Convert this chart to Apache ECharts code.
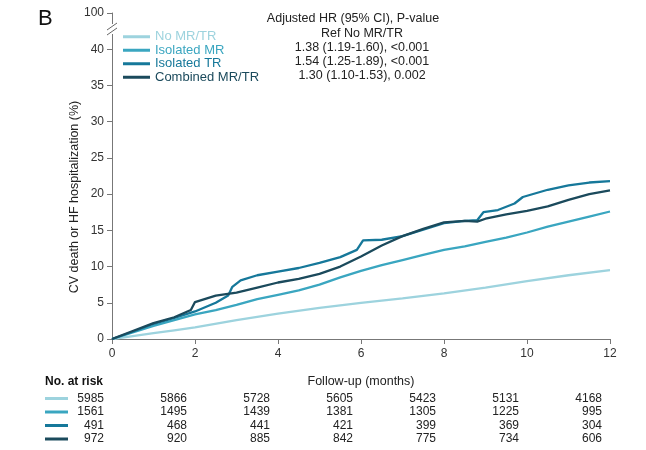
<!DOCTYPE html>
<html><head><meta charset="utf-8">
<script src="https://cdn.jsdelivr.net/npm/echarts@6/dist/echarts.min.js"></script>
<style>html,body{margin:0;padding:0;background:#fff}#c{width:646px;height:450px}</style>
</head><body><div id="c"></div>
<script>
const seriesNames = ['No MR/TR', 'Isolated MR', 'Isolated TR', 'Combined MR/TR'];
const seriesColors = ['#9dd3de', '#3aa6c0', '#16789a', '#1b4a5c'];

// [month, cumulative incidence %]
const noMrTr = [[0,0],[0.5,0.4],[1,0.8],[1.5,1.2],[2,1.6],[3,2.6],[4,3.5],[5,4.3],[6,5.0],[7,5.6],[8,6.3],[9,7.1],[10,8.0],[11,8.8],[12,9.5]];
const isolatedMr = [[0,0],[0.5,0.9],[1,1.8],[1.5,2.6],[2,3.4],[2.5,4.0],[3,4.7],[3.5,5.5],[4,6.1],[4.5,6.7],[5,7.5],[5.5,8.5],[6,9.4],[6.5,10.2],[7,10.9],[7.5,11.6],[8,12.3],[8.5,12.8],[9,13.4],[9.5,14.0],[10,14.7],[10.5,15.5],[11,16.2],[11.5,16.9],[12,17.6]];
const isolatedTr = [[0,0],[0.5,1.0],[1,2.1],[1.5,2.9],[2,3.8],[2.5,5.0],[2.8,6.0],[2.9,7.2],[3.1,8.1],[3.5,8.8],[4,9.3],[4.5,9.8],[5,10.5],[5.5,11.3],[5.9,12.3],[6.05,13.6],[6.5,13.7],[7,14.2],[7.5,15.1],[8,16.0],[8.5,16.3],[8.8,16.4],[8.95,17.5],[9.3,17.8],[9.7,18.7],[9.9,19.6],[10.5,20.6],[11,21.2],[11.5,21.6],[12,21.8]];
const combinedMrTr = [[0,0],[0.5,1.1],[1,2.2],[1.5,3.0],[1.9,4.0],[2.0,5.1],[2.5,6.0],[3,6.4],[3.5,7.1],[4,7.8],[4.5,8.3],[5,9.0],[5.5,10.0],[6,11.4],[6.5,12.9],[7,14.2],[7.5,15.2],[8,16.1],[8.5,16.3],[8.8,16.2],[9,16.6],[9.5,17.2],[10,17.7],[10.5,18.3],[11,19.2],[11.5,20.0],[12,20.5]];

const xTicks = [0, 2, 4, 6, 8, 10, 12];
const yTopLabel = '100';
const hrHeader = 'Adjusted HR (95% CI), P-value';
const hrLines = ['Ref No MR/TR', '1.38 (1.19-1.60), <0.001', '1.54 (1.25-1.89), <0.001', '1.30 (1.10-1.53), 0.002'];

const riskMonths = [0, 2, 4, 6, 8, 10, 12];
const riskNoMrTr = [5985, 5866, 5728, 5605, 5423, 5131, 4168];
const riskIsolatedMr = [1561, 1495, 1439, 1381, 1305, 1225, 995];
const riskIsolatedTr = [491, 468, 441, 421, 399, 369, 304];
const riskCombined = [972, 920, 885, 842, 775, 734, 606];

const allData = [noMrTr, isolatedMr, isolatedTr, combinedMrTr];
const riskRows = [riskNoMrTr, riskIsolatedMr, riskIsolatedTr, riskCombined];

const FONT = 'Liberation Sans, Arial, sans-serif';
const chart = echarts.init(document.getElementById('c'), null, {renderer: 'canvas'});

const option = {
  animation: false,
  backgroundColor: '#fff',
  grid: {left: 112, right: 36, top: 13, bottom: 111, containLabel: false},
  xAxis: {
    type: 'value', min: 0, max: 12, interval: 2,
    name: 'Follow-up (months)', nameLocation: 'middle', nameGap: 36,
    nameTextStyle: {fontFamily: FONT, fontSize: 12.5, color: '#222'},
    axisLine: {lineStyle: {color: '#777', width: 1}},
    axisTick: {show: true, length: 5, lineStyle: {color: '#777'}},
    axisLabel: {fontFamily: FONT, fontSize: 12, color: '#333', margin: 9},
    splitLine: {show: false}
  },
  yAxis: {
    type: 'value', min: 0, max: 45, interval: 5,
    axisLine: {show: true, lineStyle: {color: '#777', width: 1}},
    axisTick: {show: true, length: 5, lineStyle: {color: '#777'}},
    axisLabel: {fontFamily: FONT, fontSize: 12, color: '#333', margin: 8,
      formatter: v => v === 45 ? yTopLabel : String(v)},
    splitLine: {show: false}
  },
  legend: {
    orient: 'vertical', left: 118, top: 25, itemWidth: 27, itemHeight: 3, itemGap: 0,
    icon: 'rect', selectedMode: false,
    textStyle: {fontFamily: FONT, fontSize: 13, lineHeight: 13.5},
    data: seriesNames.map((n, i) => ({name: n, textStyle: {color: seriesColors[i]}}))
  },
  series: seriesNames.map((n, i) => ({
    name: n, type: 'line', data: allData[i], showSymbol: false, symbol: 'none',
    lineStyle: {color: seriesColors[i], width: 2.3}, itemStyle: {color: seriesColors[i]},
    z: 2 + i
  }))
};
chart.setOption(option);

const graphics = [];
// panel letter
graphics.push({type: 'text', left: 38, top: 8, style: {text: 'B', font: '22px ' + FONT, fill: '#111'}});
// axis break
graphics.push({type: 'rect', shape: {x: 106, y: 24, width: 12, height: 10}, style: {fill: '#fff'}, z: 100});
graphics.push({type: 'line', shape: {x1: 107, y1: 30, x2: 117, y2: 23}, style: {stroke: '#666', lineWidth: 1}, z: 101});
graphics.push({type: 'line', shape: {x1: 107, y1: 35, x2: 117, y2: 28}, style: {stroke: '#666', lineWidth: 1}, z: 101});
// y axis title
graphics.push({type: 'text', x: 75, y: 197, rotation: Math.PI / 2,
  style: {text: 'CV death or HF hospitalization (%)', font: '12.5px ' + FONT, fill: '#222', align: 'center', verticalAlign: 'middle'}});
// HR annotation
graphics.push({type: 'text', x: 353, y: 19, style: {text: hrHeader, font: '12.5px ' + FONT, fill: '#222', align: 'center', verticalAlign: 'middle'}});
hrLines.forEach((t, i) => {
  graphics.push({type: 'text', x: 362, y: 34 + i * 14, style: {text: t, font: '12.5px ' + FONT, fill: '#222', align: 'center', verticalAlign: 'middle'}});
});
// risk table
graphics.push({type: 'text', x: 45, y: 382, style: {text: 'No. at risk', font: 'bold 12px ' + FONT, fill: '#111', align: 'left', verticalAlign: 'middle'}});
riskRows.forEach((row, r) => {
  const y = 398.5 + r * 13.5;
  graphics.push({type: 'line', shape: {x1: 45, y1: y, x2: 68, y2: y}, style: {stroke: seriesColors[r], lineWidth: 3}});
  row.forEach((v, c) => {
    const px = chart.convertToPixel({xAxisIndex: 0}, riskMonths[c]);
    graphics.push({type: 'text', x: px - 8, y: y, style: {text: String(v), font: '12px ' + FONT, fill: '#222', align: 'right', verticalAlign: 'middle'}});
  });
});
chart.setOption({graphic: graphics});
</script>
</body></html>
